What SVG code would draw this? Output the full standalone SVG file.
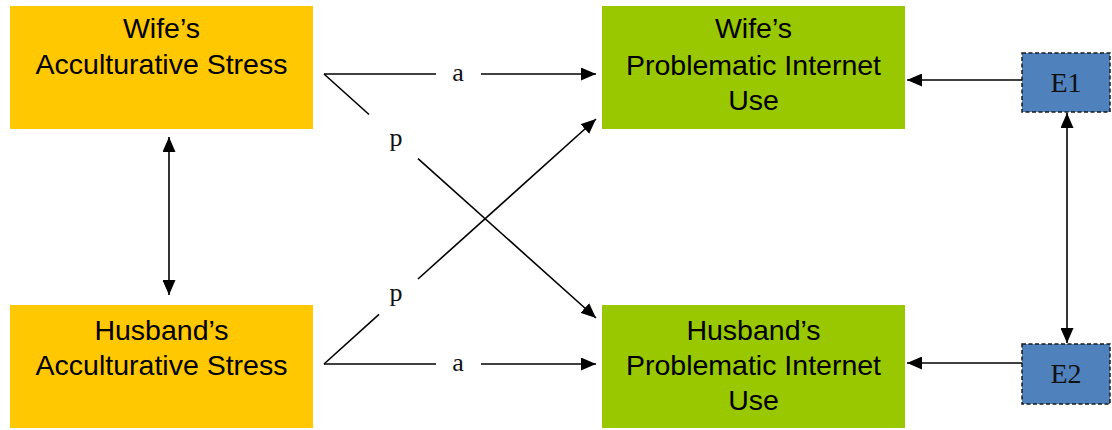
<svg xmlns="http://www.w3.org/2000/svg" width="1112" height="430" viewBox="0 0 1112 430">
<style>
.stress{fill:#FFC800;}
.piu{fill:#99C800;}
.err{fill:#4F81BD;stroke:#1a1a1a;stroke-width:1.5;stroke-dasharray:4 2.5;}
.t{font-family:"Liberation Sans",Arial,sans-serif;font-size:28.5px;fill:#000;text-anchor:middle;}
.e{font-family:"Liberation Serif","Times New Roman",serif;font-size:28px;fill:#111;text-anchor:middle;}
.lbl{font-family:"Liberation Serif","Times New Roman",serif;font-size:26px;fill:#111;text-anchor:middle;}
.ln{stroke:#000;stroke-width:1.6;fill:none;}
.arr{marker-end:url(#ah);}
.dbl{marker-start:url(#ahs);marker-end:url(#ah);}
</style>
<defs>
<marker id="ah" viewBox="0 0 15 13" refX="15" refY="6.5" markerWidth="15" markerHeight="13" markerUnits="userSpaceOnUse" orient="auto">
<path d="M0,0 L15,6.5 L0,13 Z" fill="#000"/>
</marker>
<marker id="ahs" viewBox="0 0 15 13" refX="0" refY="6.5" markerWidth="15" markerHeight="13" markerUnits="userSpaceOnUse" orient="auto">
<path d="M15,0 L0,6.5 L15,13 Z" fill="#000"/>
</marker>
</defs>
<rect width="1112" height="430" fill="#fff"/>
<g id="wife-stress">
<rect class="stress" x="10" y="6" width="303" height="123"/>
<text class="t" x="161.5" y="38">Wife’s</text>
<text class="t" x="161.5" y="74">Acculturative Stress</text>
</g>
<g id="husband-stress">
<rect class="stress" x="10" y="305" width="303" height="123"/>
<text class="t" x="161.5" y="340">Husband’s</text>
<text class="t" x="161.5" y="375">Acculturative Stress</text>
</g>
<g id="wife-piu">
<rect class="piu" x="602" y="6" width="303" height="123"/>
<text class="t" x="753.5" y="38">Wife’s</text>
<text class="t" x="753.5" y="75">Problematic Internet</text>
<text class="t" x="753.5" y="110">Use</text>
</g>
<g id="husband-piu">
<rect class="piu" x="602" y="305" width="303" height="123"/>
<text class="t" x="753.5" y="340">Husband’s</text>
<text class="t" x="753.5" y="375">Problematic Internet</text>
<text class="t" x="753.5" y="410">Use</text>
</g>
<g id="e1">
<rect class="err" x="1022" y="53" width="88" height="59"/>
<text class="e" x="1066" y="92">E1</text>
</g>
<g id="e2">
<rect class="err" x="1022" y="344" width="88" height="60"/>
<text class="e" x="1066" y="383">E2</text>
</g>
<g id="connectors">
<line class="ln" x1="324" y1="74" x2="436" y2="74"/>
<line class="ln arr" x1="481" y1="74" x2="596" y2="74"/>
<text class="lbl" x="458" y="81">a</text>
<line class="ln" x1="324" y1="364" x2="436" y2="364"/>
<line class="ln arr" x1="481" y1="364" x2="596" y2="364"/>
<text class="lbl" x="458" y="371">a</text>
<line class="ln" x1="324" y1="74" x2="369" y2="114.5"/>
<line class="ln arr" x1="418" y1="158.6" x2="596" y2="318"/>
<text class="lbl" x="396" y="146">p</text>
<line class="ln" x1="324" y1="364" x2="379" y2="314.3"/>
<line class="ln arr" x1="418" y1="279" x2="596" y2="119"/>
<text class="lbl" x="396" y="301">p</text>
<line class="ln dbl" x1="169" y1="137" x2="169" y2="295"/>
<line class="ln arr" x1="1022" y1="80" x2="907" y2="80"/>
<line class="ln arr" x1="1022" y1="363" x2="907" y2="363"/>
<line class="ln dbl" x1="1067" y1="113" x2="1067" y2="343"/>
</g>
</svg>
